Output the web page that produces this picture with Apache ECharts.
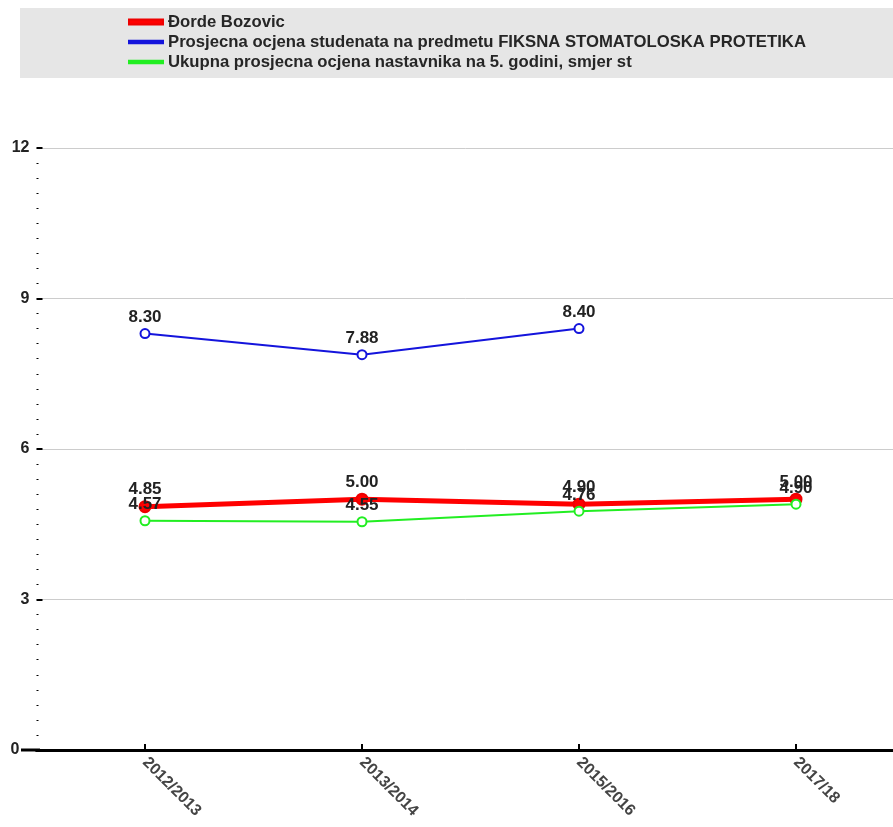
<!DOCTYPE html>
<html>
<head>
<meta charset="utf-8">
<script src="https://cdn.jsdelivr.net/npm/echarts@6/dist/echarts.min.js"></script>
<style>html,body{margin:0;padding:0;background:#fff;}#c{width:893px;height:827px;}</style>
</head>
<body>
<div id="c"></div>
<script>
var categories = ['2012/2013', '2013/2014', '2015/2016', '2017/18'];
var seriesNames = [
  'Đorde Bozovic',
  'Prosjecna ocjena studenata na predmetu FIKSNA STOMATOLOSKA PROTETIKA',
  'Ukupna prosjecna ocjena nastavnika na 5. godini, smjer st'
];
var teacherValues = [4.85, 5.00, 4.90, 5.00];
var studentValues = [8.30, 7.88, 8.40, null];
var overallValues = [4.57, 4.55, 4.76, 4.90];
var yTicks = [0, 3, 6, 9, 12];

var chart = echarts.init(document.getElementById('c'));
var labelStyle = {
  show: true, position: 'top', distance: 2,
  fontFamily: 'Liberation Sans', fontSize: 17, fontWeight: 'bold', color: '#222',
  formatter: function (p) { return p.value == null ? '' : Number(p.value).toFixed(2); }
};
chart.setOption({
  animation: false,
  graphic: [
    { type: 'rect', left: 20, top: 8, z: -1, shape: { width: 873, height: 70 }, style: { fill: '#e6e6e6' } },
    { type: 'line', z: 10, shape: { x1: 21, y1: 750, x2: 40, y2: 750 }, style: { stroke: '#000', lineWidth: 3 } }
  ],
  legend: {
    orient: 'vertical', left: 128, top: 13.5, padding: 0,
    itemWidth: 34, itemHeight: 6, itemGap: 3, symbolKeepAspect: true,
    textStyle: { fontFamily: 'Liberation Sans', fontSize: 16.7, fontWeight: 'bold', color: '#262626', lineHeight: 16 },
    data: [
      { name: seriesNames[0], icon: 'path://M0,0H34V5H0Z' },
      { name: seriesNames[1], icon: 'path://M0,0H34V2.6H0Z' },
      { name: seriesNames[2], icon: 'path://M0,0H34V2.6H0Z' }
    ]
  },
  grid: { left: 36.5, top: 148, width: 868, height: 602, outerBoundsMode: 'none', containLabel: false },
  xAxis: {
    type: 'category', data: categories, boundaryGap: true,
    axisLine: { show: true, lineStyle: { color: '#000', width: 3 } },
    axisTick: { show: true, alignWithLabel: true, inside: true, length: 6, lineStyle: { color: '#000', width: 2 } },
    axisLabel: { rotate: -45, margin: 10, fontFamily: 'Liberation Sans', fontSize: 16, color: '#444', fontWeight: 'bold' },
    splitLine: { show: false }
  },
  yAxis: {
    type: 'value', min: 0, max: 12, interval: 3,
    axisLine: { show: false },
    axisTick: { show: true, inside: true, length: 6, lineStyle: { color: '#000', width: 2 } },
    minorTick: { show: true, splitNumber: 10, length: 2, lineStyle: { color: '#000', width: 1 } },
    axisLabel: {
      margin: 7, fontFamily: 'Liberation Sans', fontSize: 16, fontWeight: 'bold', color: '#222',
      formatter: function (v) {
        if (v === 0) return '{z|0}';
        return yTicks.indexOf(v) >= 0 ? String(v) : '';
      },
      rich: { z: { fontFamily: 'Liberation Sans', fontSize: 16, fontWeight: 'bold', color: '#222', padding: [0, 10, 0, 0] } }
    },
    splitLine: { show: true, lineStyle: { color: '#cccccc', width: 1 } }
  },
  series: [
    {
      name: seriesNames[0], type: 'line', data: teacherValues,
      lineStyle: { color: '#ff0000', width: 5 },
      itemStyle: { color: '#ff0000', borderColor: '#ee0000', borderWidth: 2 },
      symbol: 'circle', symbolSize: 11, label: labelStyle, z: 2
    },
    {
      name: seriesNames[1], type: 'line', data: studentValues, connectNulls: false,
      lineStyle: { color: '#1414dc', width: 2 },
      itemStyle: { color: '#1414dc', borderColor: '#1414dc', borderWidth: 2 },
      symbol: 'emptyCircle', symbolSize: 9, label: labelStyle, z: 3
    },
    {
      name: seriesNames[2], type: 'line', data: overallValues,
      lineStyle: { color: '#22ee22', width: 2 },
      itemStyle: { color: '#22ee22', borderColor: '#22ee22', borderWidth: 2 },
      symbol: 'emptyCircle', symbolSize: 9, label: labelStyle, z: 4
    }
  ]
});
</script>
</body>
</html>
